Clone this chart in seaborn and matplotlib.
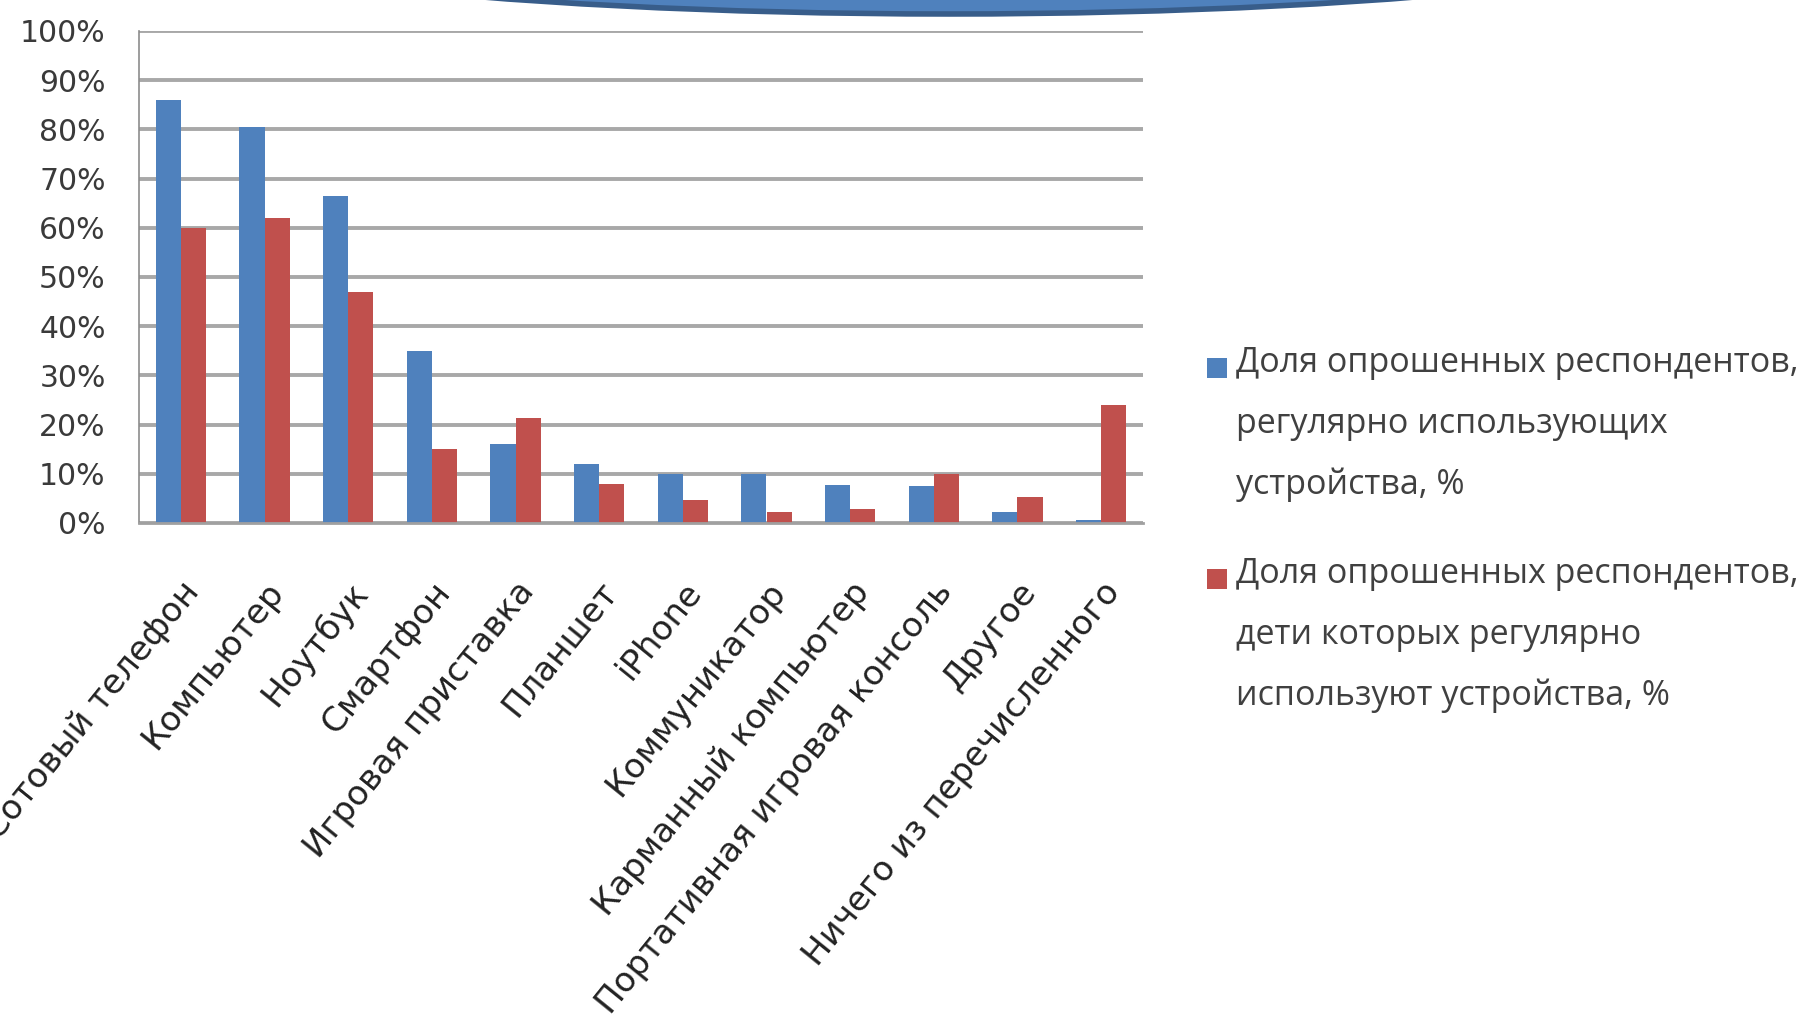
import matplotlib
matplotlib.use("Agg")
import matplotlib.pyplot as plt
from matplotlib.patches import Ellipse, Rectangle
import seaborn as sns
import pandas as pd

categories = [
    "Сотовый телефон", "Компьютер", "Ноутбук", "Смартфон", "Игровая приставка",
    "Планшет", "iPhone", "Коммуникатор", "Карманный компьютер",
    "Портативная игровая консоль", "Другое", "Ничего из перечисленного",
]
series_names = [
    "Доля опрошенных респондентов,\nрегулярно использующих\nустройства, %",
    "Доля опрошенных респондентов,\nдети которых регулярно\nиспользуют устройства, %",
]
adults = [86, 80.5, 66.5, 35, 16, 12, 10, 10, 7.7, 7.6, 2.3, 0.7]
children = [60, 62, 47, 15, 21.3, 8, 4.6, 2.2, 2.9, 10, 5.2, 24]
ytick_values = list(range(0, 101, 10))
ytick_labels = [f"{v}%" for v in ytick_values]
colors = ["#4F81BD", "#C0504D"]

df = pd.DataFrame({
    "device": categories * 2,
    "series": [series_names[0]] * len(categories) + [series_names[1]] * len(categories),
    "value": adults + children,
})

sns.set_theme(style="white")
plt.rcParams["font.family"] = ["DejaVu Sans"]

W, H = 1810, 1035
fig = plt.figure(figsize=(W / 100, H / 100), dpi=100)
fig.patch.set_facecolor("white")

ax = fig.add_axes([139 / W, 1 - 523 / H, (1143 - 139) / W, (523 - 31) / H])
sns.barplot(data=df, x="device", y="value", hue="series", order=categories,
            hue_order=series_names, palette=colors, saturation=1, width=0.6,
            gap=0, ax=ax, legend=False, errorbar=None, linewidth=0)

ax.set_xlim(-0.5, len(categories) - 0.5)
ax.set_ylim(0, 100)
ax.set_yticks(ytick_values)
ax.set_yticklabels(ytick_labels, fontsize=21.5, color="#3a3a3a")
ax.yaxis.grid(True, color="#A8A8A8", linewidth=2.8)
ax.set_axisbelow(True)
ax.tick_params(axis="y", length=0, pad=24)
ax.tick_params(axis="x", length=0, pad=38)
ax.set_xticks(range(len(categories)))
ax.set_xticklabels(categories, fontsize=24.5, color="#222222", rotation=51,
                   ha="right", va="top", rotation_mode="anchor")
ax.set_xlabel("")
ax.set_ylabel("")
for side in ["top", "right"]:
    ax.spines[side].set_visible(False)
ax.spines["left"].set_color("#8C8C8C")
ax.spines["left"].set_linewidth(1.2)
ax.spines["bottom"].set_color("#A0A0A0")
ax.spines["bottom"].set_linewidth(2)

# legend, drawn manually so the square sits on the first line
legend_font = ["Open Sans", "DejaVu Sans"]
entries_y = [346, 557]
square_y = [358, 569]
for name, col, ytop, sy in zip(series_names, colors, entries_y, square_y):
    fig.patches.append(Rectangle((1207 / W, 1 - (sy + 20) / H), 20 / W, 20 / H,
                                 transform=fig.transFigure,
                                 facecolor=col, edgecolor="none"))
    fig.text(1236 / W, 1 - ytop / H, name, fontsize=24.5, family=legend_font,
             color="#404040", va="top", ha="left", linespacing=2.02)

# decorative title shape at top of slide
fig.patches.append(Ellipse((949 / W, 1 + 92 / H), 2 * 860 / W, 2 * 106 / H,
                           transform=fig.transFigure, facecolor="#4F81BD",
                           edgecolor="#385D8A", linewidth=4, zorder=5))

fig.savefig("out.png", dpi=100, facecolor="white")
